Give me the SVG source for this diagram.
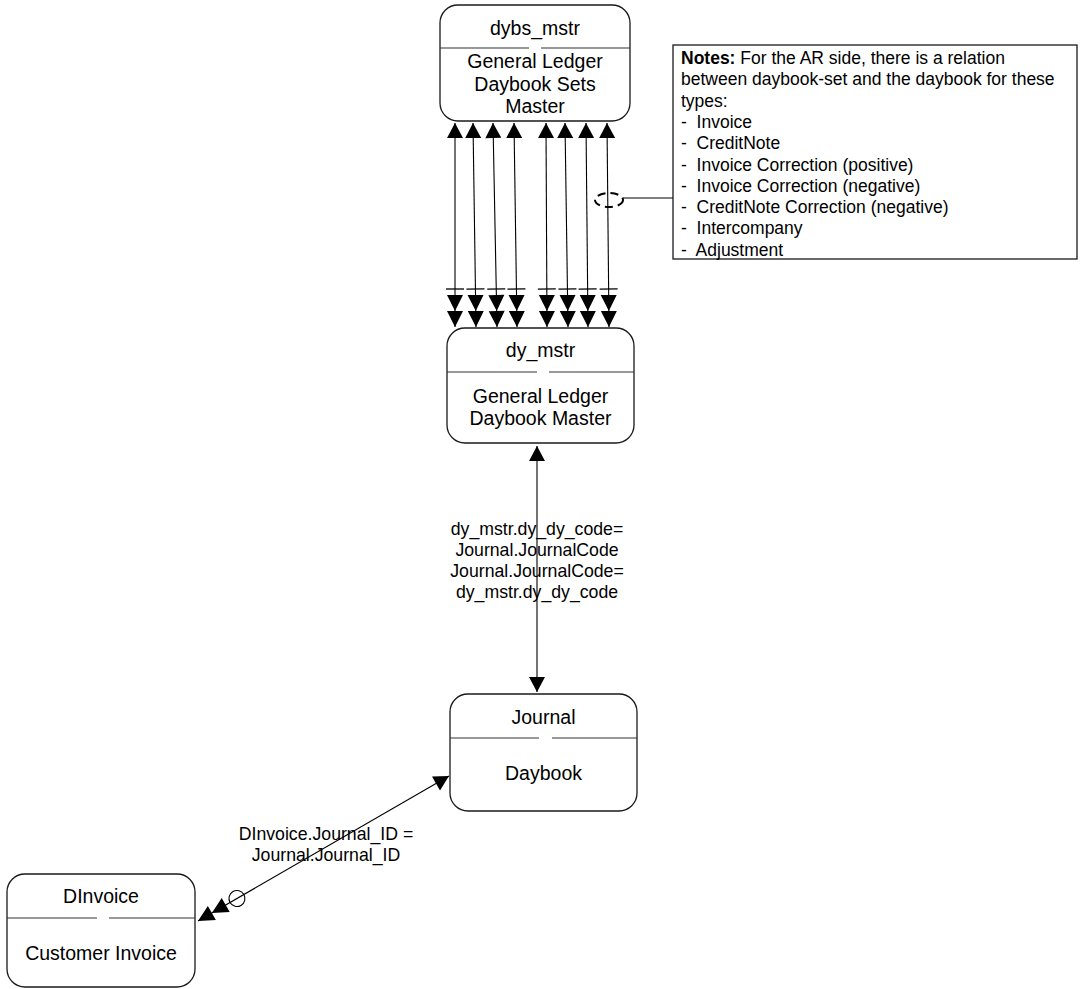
<svg xmlns="http://www.w3.org/2000/svg" width="1083" height="989" viewBox="0 0 1083 989">
<style>
.box{fill:#fff;stroke:#1a1a1a;stroke-width:1.3}
.div{stroke:#333;stroke-width:1.2;fill:none}
.nt{font-family:"Liberation Sans",Arial,sans-serif;font-size:19.5px;fill:#000;text-anchor:middle}
.lbl{font-family:"Liberation Sans",Arial,sans-serif;font-size:17.7px;fill:#000;text-anchor:middle}
.note{font-family:"Liberation Sans",Arial,sans-serif;font-size:17.5px;fill:#000}
.ln{stroke:#000;stroke-width:1.1;fill:none}
</style>
<defs>
<marker id="tri" markerUnits="userSpaceOnUse" orient="auto-start-reverse" refX="0" refY="0" markerWidth="40" markerHeight="40" style="overflow:visible">
<path d="M0,0 L-15,-8 L-15,8 z" fill="#000"/>
</marker>
<marker id="dblbar" markerUnits="userSpaceOnUse" orient="auto" refX="0" refY="0" markerWidth="40" markerHeight="40" style="overflow:visible">
<path d="M0,0 L-16,-8 L-16,8 z M-16,0 L-32,-8 L-32,8 z" fill="#000"/>
<path d="M-38,-9 L-38,9" stroke="#000" stroke-width="1.3"/>
</marker>
<marker id="dblcirc" markerUnits="userSpaceOnUse" orient="auto" refX="0" refY="0" markerWidth="60" markerHeight="40" style="overflow:visible">
<path d="M0,0 L-16,-8 L-16,8 z M-16,0 L-32,-8 L-32,8 z" fill="#000"/>
<circle cx="-45" cy="0" r="8" fill="none" stroke="#000" stroke-width="1.1"/>
</marker>
</defs>

<g id="connectors">
<path class="ln" d="M455,123 L455,327" marker-start="url(#tri)" marker-end="url(#dblbar)"/>
<path class="ln" d="M473,123 L476,327" marker-start="url(#tri)" marker-end="url(#dblbar)"/>
<path class="ln" d="M493,123 L497,327" marker-start="url(#tri)" marker-end="url(#dblbar)"/>
<path class="ln" d="M514,123 L517,327" marker-start="url(#tri)" marker-end="url(#dblbar)"/>
<path class="ln" d="M546,123 L547,327" marker-start="url(#tri)" marker-end="url(#dblbar)"/>
<path class="ln" d="M565,123 L568,327" marker-start="url(#tri)" marker-end="url(#dblbar)"/>
<path class="ln" d="M586,123 L588,327" marker-start="url(#tri)" marker-end="url(#dblbar)"/>
<path class="ln" d="M607,123 L609,327" marker-start="url(#tri)" marker-end="url(#dblbar)"/>
<ellipse cx="609" cy="200" rx="14" ry="7" fill="none" stroke="#000" stroke-width="2" stroke-dasharray="8,5"/>
<path class="ln" d="M623,198 L673,198"/>
<path class="ln" d="M537,446 L537,692" marker-start="url(#tri)" marker-end="url(#tri)"/>
<text class="lbl" x="537" y="535">dy_mstr.dy_dy_code=</text>
<text class="lbl" x="537" y="556">Journal.JournalCode</text>
<text class="lbl" x="537" y="577">Journal.JournalCode=</text>
<text class="lbl" x="537" y="598">dy_mstr.dy_dy_code</text>
<path class="ln" d="M449,776 L198,921" marker-start="url(#tri)" marker-end="url(#dblcirc)"/>
<text class="lbl" x="326" y="840">DInvoice.Journal_ID =</text>
<text class="lbl" x="326" y="861">Journal.Journal_ID</text>
</g>

<g id="dybs_mstr">
<rect class="box" x="440" y="5" width="190" height="116" rx="18" ry="18"/>
<path class="div" d="M440,48 L529,48 M541,48 L630,48"/>
<text class="nt" x="535" y="35">dybs_mstr</text>
<text class="nt" x="535" y="68">General Ledger</text>
<text class="nt" x="535" y="90.5">Daybook Sets</text>
<text class="nt" x="535" y="113">Master</text>
</g>

<g id="notes">
<rect x="673" y="45" width="404" height="214" fill="#fff" stroke="#1a1a1a" stroke-width="1.3"/>
<text class="note" x="681" y="64"><tspan font-weight="bold">Notes:</tspan> For the AR side, there is a relation</text>
<text class="note" x="681" y="85.3">between daybook-set and the daybook for these</text>
<text class="note" x="681" y="106.6">types:</text>
<text class="note" x="681" y="127.9" xml:space="preserve">-  Invoice</text>
<text class="note" x="681" y="149.2" xml:space="preserve">-  CreditNote</text>
<text class="note" x="681" y="170.5" xml:space="preserve">-  Invoice Correction (positive)</text>
<text class="note" x="681" y="191.8" xml:space="preserve">-  Invoice Correction (negative)</text>
<text class="note" x="681" y="213.1" xml:space="preserve">-  CreditNote Correction (negative)</text>
<text class="note" x="681" y="234.4" xml:space="preserve">-  Intercompany</text>
<text class="note" x="681" y="255.7" xml:space="preserve">-  Adjustment</text>
</g>

<g id="dy_mstr">
<rect class="box" x="447" y="328" width="187" height="115" rx="18" ry="18"/>
<path class="div" d="M447,372 L537,372 M549,372 L634,372"/>
<text class="nt" x="540.5" y="357">dy_mstr</text>
<text class="nt" x="540.5" y="403">General Ledger</text>
<text class="nt" x="540.5" y="425">Daybook Master</text>
</g>

<g id="Journal">
<rect class="box" x="450" y="694" width="187" height="117" rx="18" ry="18"/>
<path class="div" d="M450,738 L539,738 M552,738 L637,738"/>
<text class="nt" x="543.5" y="724">Journal</text>
<text class="nt" x="543.5" y="780">Daybook</text>
</g>

<g id="DInvoice">
<rect class="box" x="7" y="874" width="188" height="113" rx="18" ry="18"/>
<path class="div" d="M7,918 L97,918 M109,918 L195,918"/>
<text class="nt" x="101" y="903">DInvoice</text>
<text class="nt" x="101" y="960">Customer Invoice</text>
</g>
</svg>
